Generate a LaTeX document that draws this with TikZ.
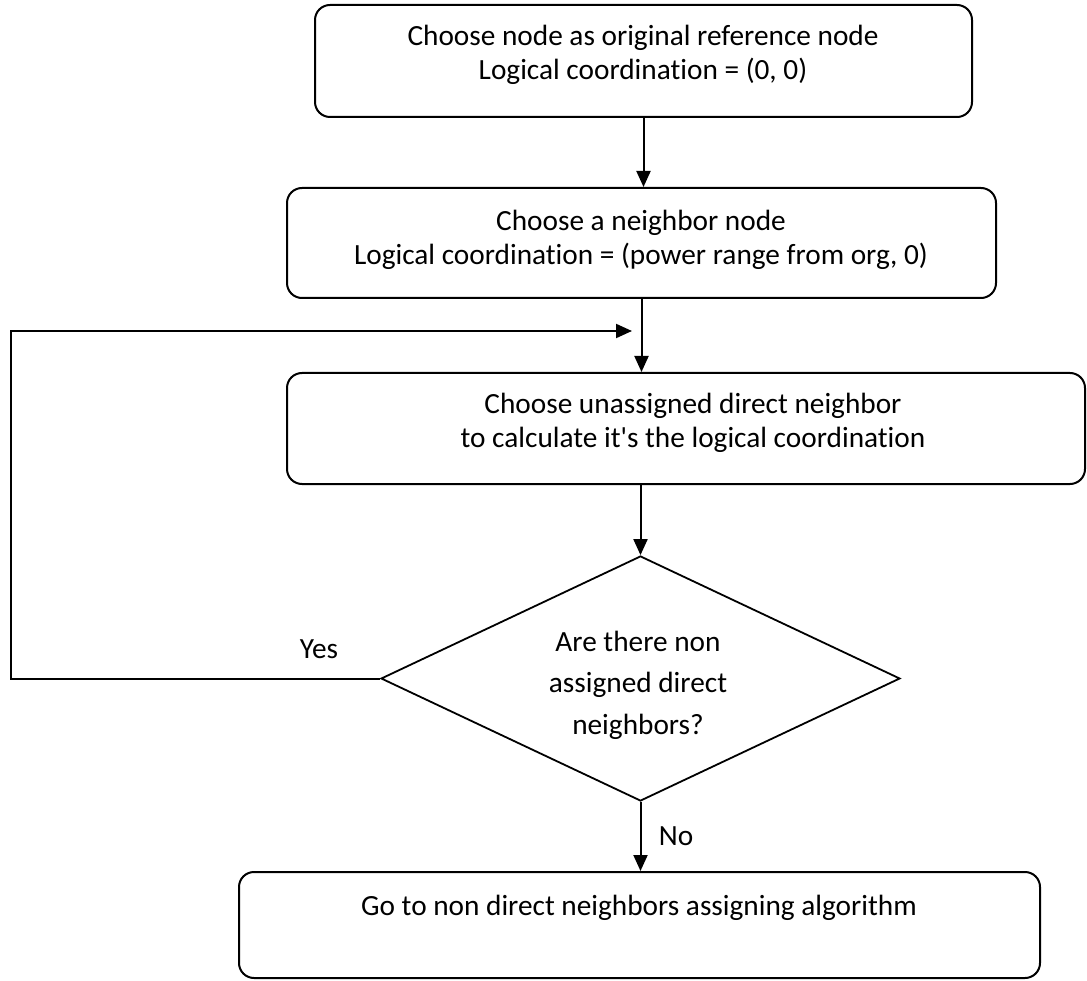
\documentclass[tikz,border=0pt]{standalone}
\usepackage{fontspec}
\setmainfont{Carlito}[Ligatures={NoCommon}]
\usetikzlibrary{arrows.meta,shapes.geometric}
\begin{document}
\begin{tikzpicture}[x=1pt,y=-1pt,
  box/.style={draw,line width=2pt,rounded corners=15pt,inner sep=0pt,rectangle},
  dia/.style={draw,line width=1.8pt,diamond,inner sep=0pt},
  txt/.style={inner sep=0pt,align=center,font=\fontsize{29.3}{33.5}\selectfont},
  dtxt/.style={inner sep=0pt,align=center,font=\fontsize{29.3}{41.5}\selectfont},
  conn/.style={line width=2pt,-{Triangle[length=16pt,width=14pt]}},
  lbl/.style={inner sep=0pt,font=\fontsize{29.3}{34}\selectfont}]
\useasboundingbox (0,0) rectangle (1087,981);
% boxes
\node[box,minimum width=657pt,minimum height=112pt] (b1) at (643.5,61) {};
\node[box,minimum width=709pt,minimum height=110pt] (b2) at (641.5,243) {};
\node[box,minimum width=798pt,minimum height=111pt] (b3) at (686,428.5) {};
\node[dia,minimum width=519pt,minimum height=245pt] (d) at (640.5,678.5) {};
\node[box,minimum width=801pt,minimum height=106pt] (b4) at (639.5,925) {};
% texts
\node[txt] (t1) at (643,55) {Choose node as original reference node\\Logical coordination = (0, 0)};
\node[txt] (t2) at (641,240) {Choose a neighbor node\\Logical coordination = (power range from org, 0)};
\node[txt] (t3) at (693,423) {Choose unassigned direct neighbor\\to calculate it\textquotesingle s the logical coordination};
\node[dtxt] (t5) at (638,685) {Are there non\\assigned direct\\neighbors?};
\node[txt] (t4) at (639,908) {Go to non direct neighbors assigning algorithm};
\node[lbl] (yes) at (319,649) {Yes};
\node[lbl] (no) at (676,836) {No};
% connectors
\coordinate (lp) at (11,331);
\coordinate (lt) at (632,331);
\draw[conn] (b1.south) -- (b1.south |- b2.north);
\draw[conn] (b2.south) -- (b2.south |- b3.north);
\draw[conn] (d.north |- b3.south) -- (d.north);
\draw[conn] (d.south) -- (d.south |- b4.north);
\draw[conn] (d.west) -- (d.west -| lp) -- (lp) -- (lt);
\end{tikzpicture}
\end{document}
